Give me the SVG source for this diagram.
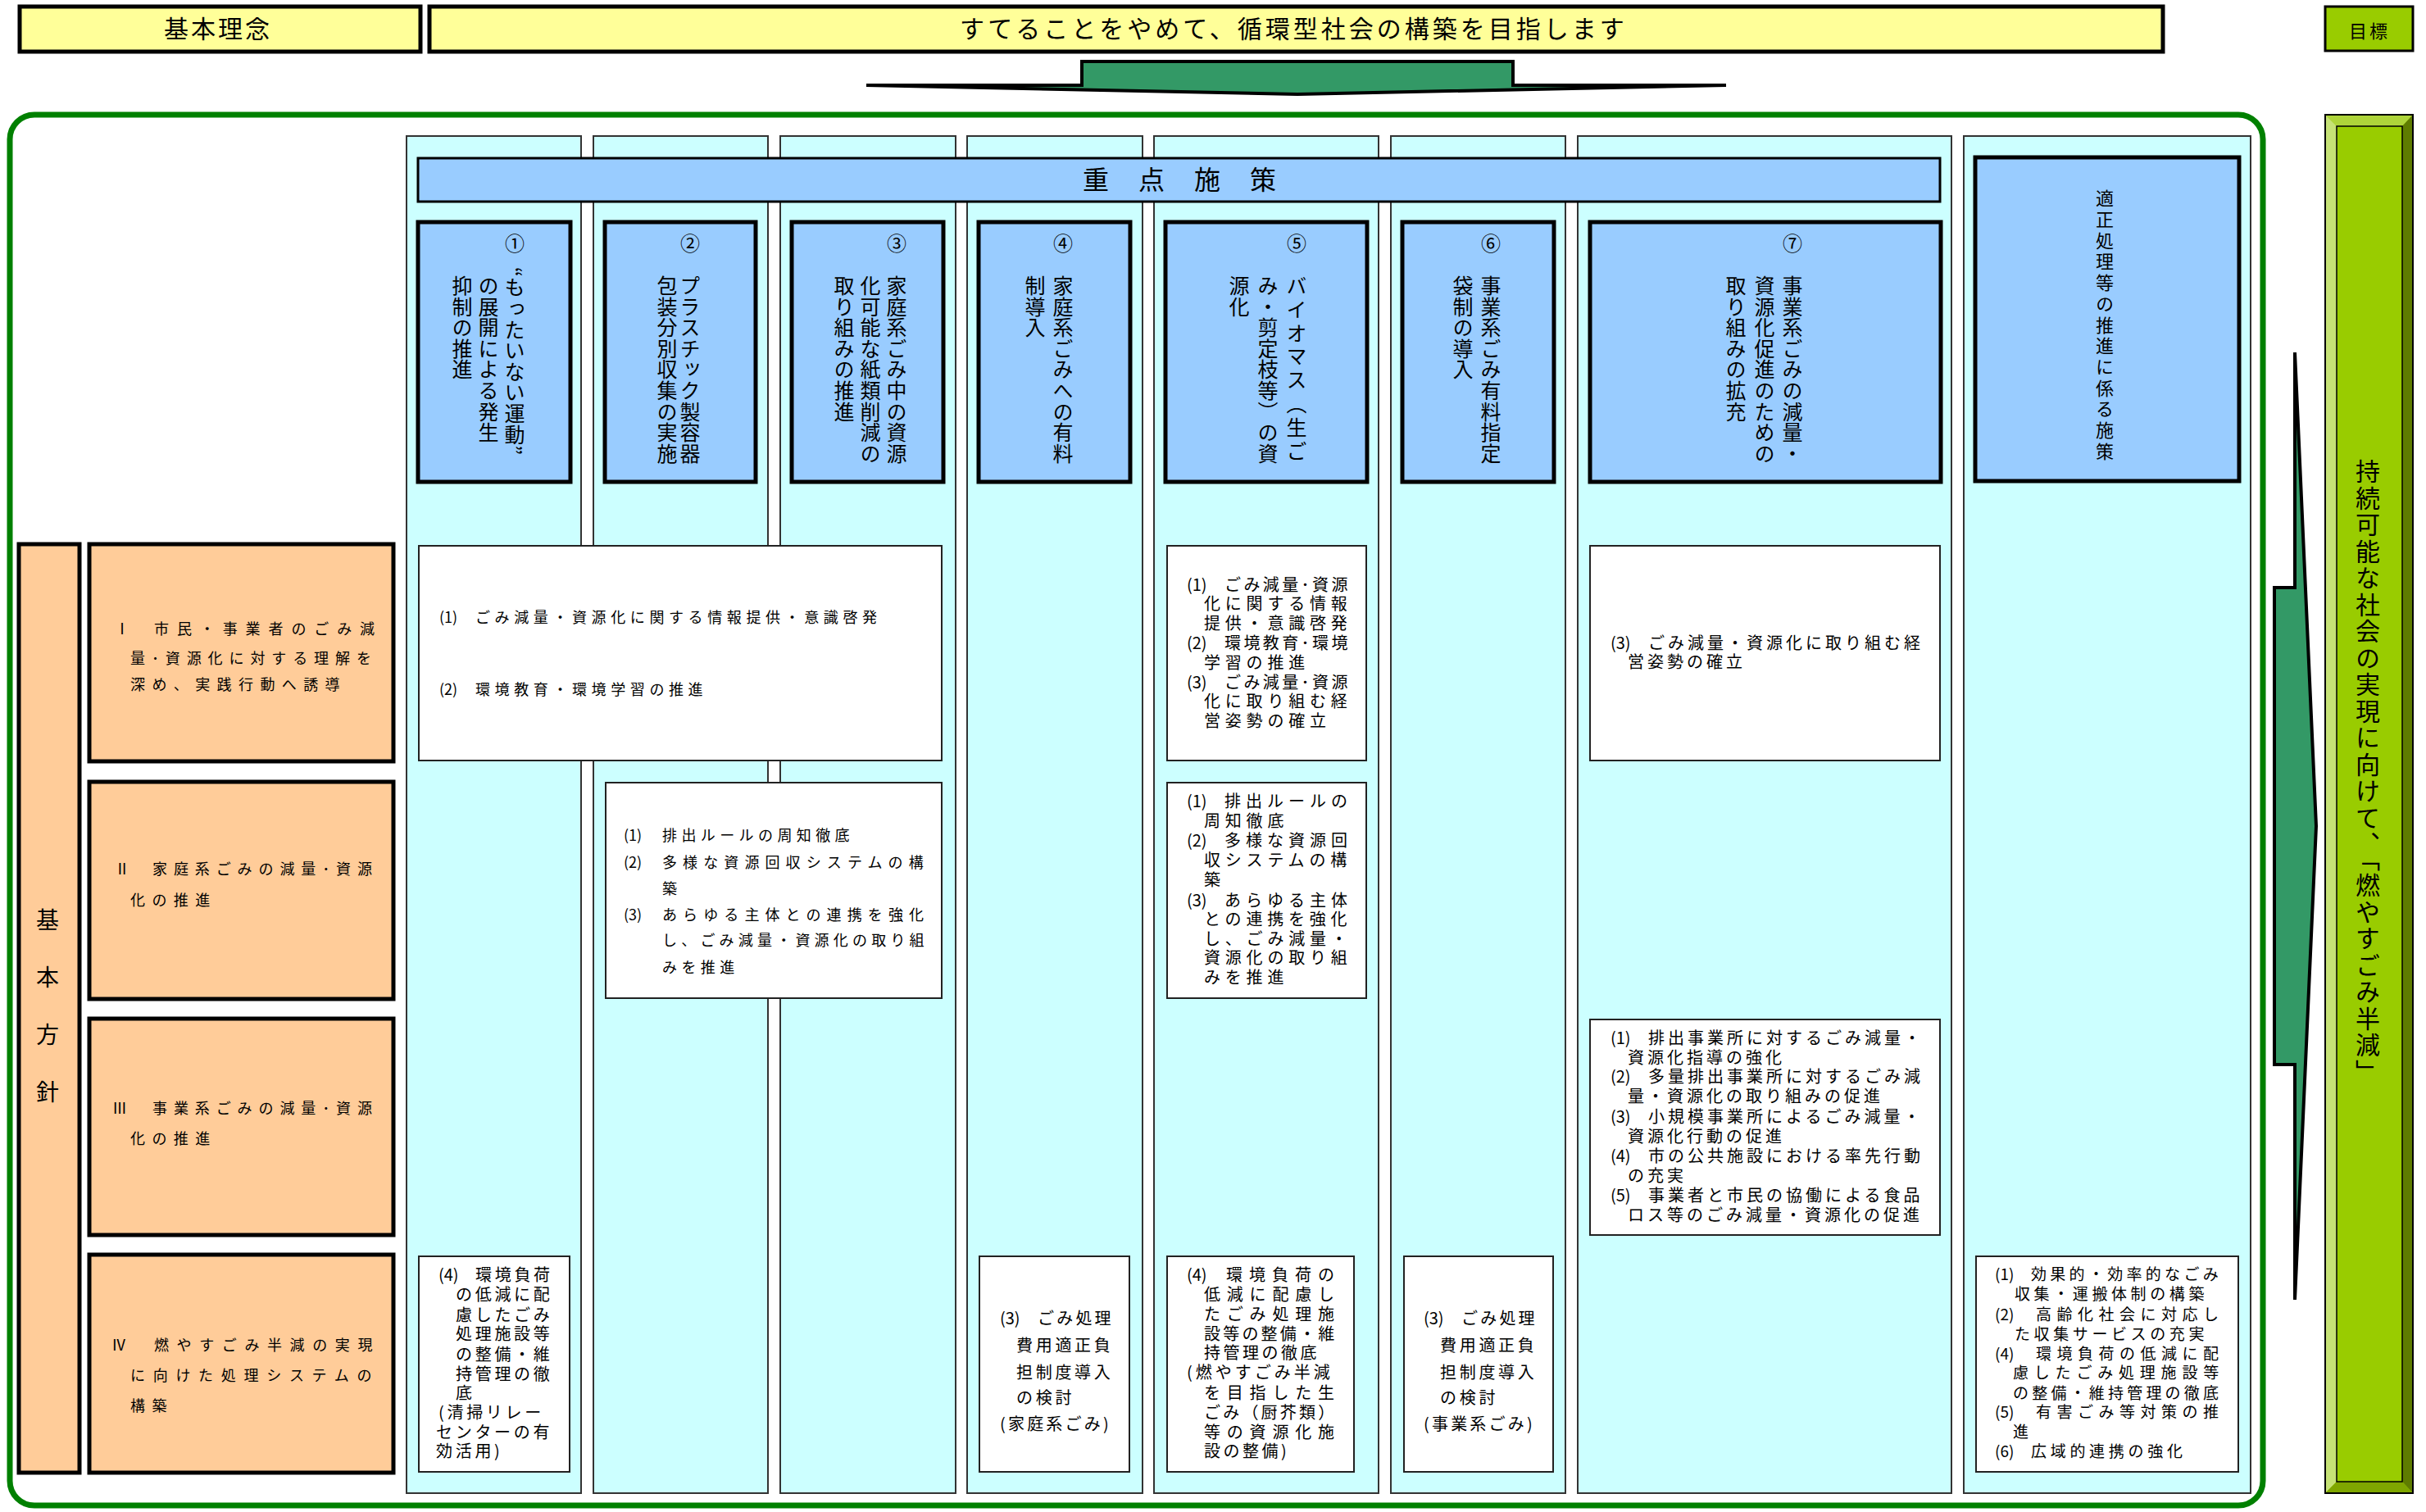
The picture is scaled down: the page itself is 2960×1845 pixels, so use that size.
<svg xmlns="http://www.w3.org/2000/svg" width="2960" height="1845" viewBox="0 0 2960 1845">
<style>
.t{font-family:"Noto Sans CJK JP","Noto Sans CJK SC",sans-serif;fill:#000}
.v{writing-mode:vertical-rl}
.col{fill:#CCFFFF;stroke:#333;stroke-width:2}
.pol{fill:#99CCFF;stroke:#000;stroke-width:5}
.cat{fill:#FFCC99;stroke:#000;stroke-width:5}
.wb{fill:#FFFFFF;stroke:#222;stroke-width:2}
.arrow{fill:#339966;stroke:#000;stroke-width:4;stroke-linejoin:miter}
.s18{font-size:18px}
.s19{font-size:19px}
.s20{font-size:20px}
.s24{font-size:24px}
.pv{font-size:25px;letter-spacing:0.6px}
</style>
<rect x="0" y="0" width="2960" height="1845" fill="#FFFFFF"/>

<g id="kihon-rinen">
<rect x="24" y="8" width="489" height="55" fill="#FFFF99" stroke="#000" stroke-width="5"/>
<text class="t" x="200" y="46" font-size="30" style="letter-spacing:3px">基本理念</text>
</g>
<g id="rinen-text">
<rect x="524" y="8" width="2115" height="55" fill="#FFFF99" stroke="#000" stroke-width="5"/>
<text class="t" x="1171" y="46" font-size="30" style="letter-spacing:4px">すてることをやめて、循環型社会の構築を目指します</text>
</g>
<g id="mokuhyo-label">
<rect x="2837" y="8" width="107" height="54" fill="#99CC00" stroke="#000" stroke-width="3"/>
<text class="t" x="2866" y="46" font-size="22" style="letter-spacing:3px">目標</text>
</g>

<g id="container">
<rect x="12" y="140" width="2749" height="1697" rx="30" ry="30" fill="#FFFFFF" stroke="#008000" stroke-width="7"/>
</g>

<g id="columns">
<rect class="col" x="496" y="166" width="213" height="1656"/>
<rect class="col" x="724" y="166" width="213" height="1656"/>
<rect class="col" x="952" y="166" width="214" height="1656"/>
<rect class="col" x="1180" y="166" width="214" height="1656"/>
<rect class="col" x="1408" y="166" width="274" height="1656"/>
<rect class="col" x="1697" y="166" width="213" height="1656"/>
<rect class="col" x="1925" y="166" width="456" height="1656"/>
<rect class="col" x="2396" y="166" width="350" height="1656"/>
</g>

<g id="juten-shisaku">
<rect x="510" y="193" width="1857" height="53" fill="#99CCFF" stroke="#000" stroke-width="3"/>
<text class="t" x="1321" y="231" font-size="32" style="letter-spacing:36px">重点施策</text>
</g>

<g id="policy-1">
<rect class="pol" x="510" y="271" width="186" height="317"/>
<text class="t s24" x="628" y="306" text-anchor="middle">①</text>
<text class="t v pv" x="628" y="326">“もったいない運動”</text>
<text class="t v pv" x="596" y="336">の展開による発生</text>
<text class="t v pv" x="564" y="336">抑制の推進</text>
</g>
<g id="policy-2">
<rect class="pol" x="738" y="271" width="184" height="317"/>
<text class="t s24" x="842" y="306" text-anchor="middle">②</text>
<text class="t v pv" x="842" y="336">プラスチック製容器</text>
<text class="t v pv" x="814" y="336">包装分別収集の実施</text>
</g>
<g id="policy-3">
<rect class="pol" x="966" y="271" width="185" height="317"/>
<text class="t s24" x="1094" y="306" text-anchor="middle">③</text>
<text class="t v pv" x="1094" y="336">家庭系ごみ中の資源</text>
<text class="t v pv" x="1062" y="336">化可能な紙類削減の</text>
<text class="t v pv" x="1030" y="336">取り組みの推進</text>
</g>
<g id="policy-4">
<rect class="pol" x="1194" y="271" width="185" height="317"/>
<text class="t s24" x="1297" y="306" text-anchor="middle">④</text>
<text class="t v pv" x="1297" y="336">家庭系ごみへの有料</text>
<text class="t v pv" x="1263" y="336">制導入</text>
</g>
<g id="policy-5">
<rect class="pol" x="1422" y="271" width="246" height="317"/>
<text class="t s24" x="1582" y="306" text-anchor="middle">⑤</text>
<text class="t v pv" x="1582" y="336" style="letter-spacing:3.8px">バイオマス（生ご</text>
<text class="t v pv" x="1547" y="336">み・剪定枝等）の資</text>
<text class="t v pv" x="1512" y="336">源化</text>
</g>
<g id="policy-6">
<rect class="pol" x="1711" y="271" width="185" height="317"/>
<text class="t s24" x="1819" y="306" text-anchor="middle">⑥</text>
<text class="t v pv" x="1819" y="336">事業系ごみ有料指定</text>
<text class="t v pv" x="1785" y="336">袋制の導入</text>
</g>
<g id="policy-7">
<rect class="pol" x="1940" y="271" width="428" height="317"/>
<text class="t s24" x="2187" y="306" text-anchor="middle">⑦</text>
<text class="t v pv" x="2187" y="336">事業系ごみの減量・</text>
<text class="t v pv" x="2153" y="336">資源化促進のための</text>
<text class="t v pv" x="2118" y="336">取り組みの拡充</text>
</g>
<g id="policy-8">
<rect class="pol" x="2410" y="192" width="322" height="395"/>
<text class="t v" x="2568" y="231" font-size="22" style="letter-spacing:3.7px">適正処理等の推進に係る施策</text>
</g>

<g id="kihon-hoshin">
<rect class="cat" x="23" y="664" width="74" height="1133"/>
<text class="t v" x="58" y="1108" font-size="28" style="letter-spacing:42px">基本方針</text>
</g>
<g id="hoshin-1">
<rect class="cat" x="109" y="664" width="371" height="265"/>
<text class="t s18" y="774"><tspan x="140">Ⅰ</tspan><tspan x="188" style="letter-spacing:9.9px">市民・事業者のごみ減</tspan></text>
<text class="t s18" x="159" y="810" style="letter-spacing:7.9px">量･資源化に対する理解を</text>
<text class="t s18" x="159" y="842" style="letter-spacing:8.4px">深め、実践行動へ誘導</text>
</g>
<g id="hoshin-2">
<rect class="cat" x="109" y="954" width="371" height="265"/>
<text class="t s18" y="1067"><tspan x="140">Ⅱ</tspan><tspan x="186" style="letter-spacing:7.9px">家庭系ごみの減量･資源</tspan></text>
<text class="t s18" x="159" y="1105" style="letter-spacing:8.4px">化の推進</text>
</g>
<g id="hoshin-3">
<rect class="cat" x="109" y="1243" width="371" height="264"/>
<text class="t s18" y="1359"><tspan x="137">Ⅲ</tspan><tspan x="186" style="letter-spacing:7.9px">事業系ごみの減量･資源</tspan></text>
<text class="t s18" x="159" y="1396" style="letter-spacing:8.4px">化の推進</text>
</g>
<g id="hoshin-4">
<rect class="cat" x="109" y="1531" width="371" height="266"/>
<text class="t s18" y="1648"><tspan x="136">Ⅳ</tspan><tspan x="188" style="letter-spacing:9.6px">燃やすごみ半減の実現</tspan></text>
<text class="t s18" x="159" y="1685" style="letter-spacing:9.7px">に向けた処理システムの</text>
<text class="t s18" x="159" y="1722" style="letter-spacing:8.4px">構築</text>
</g>

<g id="measure-a">
<rect class="wb" x="511" y="666" width="638" height="262"/>
<text class="t s18" y="760"><tspan x="536">(1)</tspan><tspan x="580" style="letter-spacing:5.6px">ごみ減量・資源化に関する情報提供・意識啓発</tspan></text>
<text class="t s18" y="848"><tspan x="536">(2)</tspan><tspan x="580" style="letter-spacing:5.6px">環境教育・環境学習の推進</tspan></text>
</g>
<g id="measure-b">
<rect class="wb" x="739" y="955" width="410" height="263"/>
<text class="t s18" y="1026"><tspan x="761">(1)</tspan><tspan x="808" style="letter-spacing:5.4px">排出ルールの周知徹底</tspan></text>
<text class="t s18" y="1059"><tspan x="761">(2)</tspan><tspan x="808" style="letter-spacing:7.1px">多様な資源回収システムの構</tspan></text>
<text class="t s18" x="808" y="1091">築</text>
<text class="t s18" y="1123"><tspan x="761">(3)</tspan><tspan x="808" style="letter-spacing:7.1px">あらゆる主体との連携を強化</tspan></text>
<text class="t s18" x="808" y="1154" style="letter-spacing:5.2px">し、ごみ減量・資源化の取り組</text>
<text class="t s18" x="808" y="1187" style="letter-spacing:5.4px">みを推進</text>
</g>
<g id="measure-c">
<rect class="wb" x="1424" y="666" width="243" height="262"/>
<text class="t s20" y="721"><tspan x="1448">(1)</tspan><tspan x="1494" style="letter-spacing:3.4px">ごみ減量･資源</tspan></text>
<text class="t s20" x="1469" y="744" style="letter-spacing:5.8px">化に関する情報</text>
<text class="t s20" x="1469" y="768" style="letter-spacing:5.8px">提供・意識啓発</text>
<text class="t s20" y="792"><tspan x="1448">(2)</tspan><tspan x="1494" style="letter-spacing:3.4px">環境教育･環境</tspan></text>
<text class="t s20" x="1469" y="816" style="letter-spacing:5.8px">学習の推進</text>
<text class="t s20" y="840"><tspan x="1448">(3)</tspan><tspan x="1494" style="letter-spacing:3.4px">ごみ減量･資源</tspan></text>
<text class="t s20" x="1469" y="863" style="letter-spacing:5.8px">化に取り組む経</text>
<text class="t s20" x="1469" y="887" style="letter-spacing:5.8px">営姿勢の確立</text>
</g>
<g id="measure-d">
<rect class="wb" x="1424" y="955" width="243" height="263"/>
<text class="t s20" y="985"><tspan x="1448">(1)</tspan><tspan x="1494" style="letter-spacing:6px">排出ルールの</tspan></text>
<text class="t s20" x="1469" y="1009" style="letter-spacing:5.8px">周知徹底</text>
<text class="t s20" y="1033"><tspan x="1448">(2)</tspan><tspan x="1494" style="letter-spacing:6px">多様な資源回</tspan></text>
<text class="t s20" x="1469" y="1057" style="letter-spacing:5.8px">収システムの構</text>
<text class="t s20" x="1469" y="1081">築</text>
<text class="t s20" y="1106"><tspan x="1448">(3)</tspan><tspan x="1494" style="letter-spacing:6px">あらゆる主体</tspan></text>
<text class="t s20" x="1469" y="1129" style="letter-spacing:5.8px">との連携を強化</text>
<text class="t s20" x="1469" y="1153" style="letter-spacing:5.8px">し、ごみ減量・</text>
<text class="t s20" x="1469" y="1176" style="letter-spacing:5.8px">資源化の取り組</text>
<text class="t s20" x="1469" y="1200" style="letter-spacing:5.8px">みを推進</text>
</g>
<g id="measure-e">
<rect class="wb" x="1940" y="666" width="427" height="262"/>
<text class="t s20" y="792"><tspan x="1965">(3)</tspan><tspan x="2011" style="letter-spacing:4px">ごみ減量・資源化に取り組む経</tspan></text>
<text class="t s20" x="1986" y="815" style="letter-spacing:4px">営姿勢の確立</text>
</g>
<g id="measure-f">
<rect class="wb" x="1940" y="1244" width="427" height="263"/>
<text class="t s20" y="1274"><tspan x="1965">(1)</tspan><tspan x="2011" style="letter-spacing:4px">排出事業所に対するごみ減量・</tspan></text>
<text class="t s20" x="1986" y="1298" style="letter-spacing:4px">資源化指導の強化</text>
<text class="t s20" y="1321"><tspan x="1965">(2)</tspan><tspan x="2011" style="letter-spacing:4px">多量排出事業所に対するごみ減</tspan></text>
<text class="t s20" x="1986" y="1345" style="letter-spacing:4px">量・資源化の取り組みの促進</text>
<text class="t s20" y="1370"><tspan x="1965">(3)</tspan><tspan x="2011" style="letter-spacing:4px">小規模事業所によるごみ減量・</tspan></text>
<text class="t s20" x="1986" y="1394" style="letter-spacing:4px">資源化行動の促進</text>
<text class="t s20" y="1418"><tspan x="1965">(4)</tspan><tspan x="2011" style="letter-spacing:4px">市の公共施設における率先行動</tspan></text>
<text class="t s20" x="1986" y="1442" style="letter-spacing:4px">の充実</text>
<text class="t s20" y="1466"><tspan x="1965">(5)</tspan><tspan x="2011" style="letter-spacing:4px">事業者と市民の協働による食品</tspan></text>
<text class="t s20" x="1986" y="1490" style="letter-spacing:4px">ロス等のごみ減量・資源化の促進</text>
</g>
<g id="measure-g">
<rect class="wb" x="1424" y="1533" width="228" height="263"/>
<text class="t s20" y="1563"><tspan x="1448">(4)</tspan><tspan x="1496" style="letter-spacing:8px">環境負荷の</tspan></text>
<text class="t s20" x="1469" y="1587" style="letter-spacing:7.8px">低減に配慮し</text>
<text class="t s20" x="1469" y="1611" style="letter-spacing:7.8px">たごみ処理施</text>
<text class="t s20" x="1469" y="1635" style="letter-spacing:3.2px">設等の整備・維</text>
<text class="t s20" x="1469" y="1658" style="letter-spacing:3.5px">持管理の徹底</text>
<text class="t s20" x="1448" y="1682" style="letter-spacing:4px">(燃やすごみ半減</text>
<text class="t s20" x="1469" y="1707" style="letter-spacing:7.8px">を目指した生</text>
<text class="t s20" x="1469" y="1731" style="letter-spacing:3.2px">ごみ（厨芥類）</text>
<text class="t s20" x="1469" y="1755" style="letter-spacing:7.8px">等の資源化施</text>
<text class="t s20" x="1469" y="1778" style="letter-spacing:3.5px">設の整備)</text>
</g>
<g id="measure-h">
<rect class="wb" x="1713" y="1533" width="182" height="263"/>
<text class="t s20" y="1616"><tspan x="1737">(3)</tspan><tspan x="1783" style="letter-spacing:3.2px">ごみ処理</tspan></text>
<text class="t s20" x="1757" y="1649" style="letter-spacing:3.7px">費用適正負</text>
<text class="t s20" x="1757" y="1682" style="letter-spacing:3.7px">担制度導入</text>
<text class="t s20" x="1757" y="1713" style="letter-spacing:3.7px">の検討</text>
<text class="t s20" x="1737" y="1745" style="letter-spacing:3.2px">(事業系ごみ)</text>
</g>
<g id="measure-i">
<rect class="wb" x="511" y="1533" width="184" height="263"/>
<text class="t s20" y="1563"><tspan x="535">(4)</tspan><tspan x="580" style="letter-spacing:3.7px">環境負荷</tspan></text>
<text class="t s20" x="556" y="1587" style="letter-spacing:3.7px">の低減に配</text>
<text class="t s20" x="556" y="1612" style="letter-spacing:3.7px">慮したごみ</text>
<text class="t s20" x="556" y="1635" style="letter-spacing:3.7px">処理施設等</text>
<text class="t s20" x="556" y="1660" style="letter-spacing:3.7px">の整備・維</text>
<text class="t s20" x="556" y="1684" style="letter-spacing:3.7px">持管理の徹</text>
<text class="t s20" x="556" y="1707">底</text>
<text class="t s20" x="535" y="1731" style="letter-spacing:3.7px">(清掃リレー</text>
<text class="t s20" x="532" y="1755" style="letter-spacing:3.7px">センターの有</text>
<text class="t s20" x="532" y="1778" style="letter-spacing:3.7px">効活用)</text>
</g>
<g id="measure-j">
<rect class="wb" x="1195" y="1533" width="183" height="263"/>
<text class="t s20" y="1616"><tspan x="1220">(3)</tspan><tspan x="1266" style="letter-spacing:3.2px">ごみ処理</tspan></text>
<text class="t s20" x="1240" y="1649" style="letter-spacing:3.7px">費用適正負</text>
<text class="t s20" x="1240" y="1682" style="letter-spacing:3.7px">担制度導入</text>
<text class="t s20" x="1240" y="1713" style="letter-spacing:3.7px">の検討</text>
<text class="t s20" x="1220" y="1745" style="letter-spacing:3.2px">(家庭系ごみ)</text>
</g>
<g id="measure-l">
<rect class="wb" x="2411" y="1533" width="320" height="263"/>
<text class="t s19" y="1562"><tspan x="2434">(1)</tspan><tspan x="2478" style="letter-spacing:4.3px">効果的・効率的なごみ</tspan></text>
<text class="t s19" x="2458" y="1586" style="letter-spacing:4.6px">収集・運搬体制の構築</text>
<text class="t s19" y="1611"><tspan x="2434">(2)</tspan><tspan x="2484" style="letter-spacing:6.5px">高齢化社会に対応し</tspan></text>
<text class="t s19" x="2458" y="1635" style="letter-spacing:4.6px">た収集サービスの充実</text>
<text class="t s19" y="1659"><tspan x="2434">(4)</tspan><tspan x="2484" style="letter-spacing:6.5px">環境負荷の低減に配</tspan></text>
<text class="t s19" x="2456" y="1682" style="letter-spacing:6.8px">慮したごみ処理施設等</text>
<text class="t s19" x="2456" y="1707" style="letter-spacing:4.2px">の整備・維持管理の徹底</text>
<text class="t s19" y="1730"><tspan x="2434">(5)</tspan><tspan x="2484" style="letter-spacing:6.5px">有害ごみ等対策の推</tspan></text>
<text class="t s19" x="2456" y="1754">進</text>
<text class="t s19" y="1778"><tspan x="2434">(6)</tspan><tspan x="2478" style="letter-spacing:4.7px">広域的連携の強化</tspan></text>
</g>

<g id="mokuhyo">
<rect x="2837" y="140" width="107" height="1682" fill="#99CC00"/>
<polygon points="2837,140 2944,140 2931,154 2851,154" fill="#AED43A"/>
<polygon points="2837,140 2851,154 2851,1808 2837,1822" fill="#C6E276"/>
<polygon points="2944,140 2944,1822 2931,1808 2931,154" fill="#5E7C00"/>
<polygon points="2837,1822 2944,1822 2931,1808 2851,1808" fill="#7FA600"/>
<rect x="2837" y="140" width="107" height="1682" fill="none" stroke="#000" stroke-width="2"/>
<rect x="2851" y="154" width="80" height="1654" fill="none" stroke="#000" stroke-width="1.5"/>
<text class="t v" x="2889" y="560" font-size="30" style="letter-spacing:2.5px">持続可能な社会の実現に向けて、「燃やすごみ半減」</text>
</g>

<g id="connectors">
<polygon class="arrow" points="1320,75 1846,75 1846,104 2106,104 1583,115 1057,104 1320,104"/>
<polygon class="arrow" points="2775,717 2800,717 2800,430 2826,1008 2800,1586 2800,1299 2775,1299"/>
</g>
</svg>
